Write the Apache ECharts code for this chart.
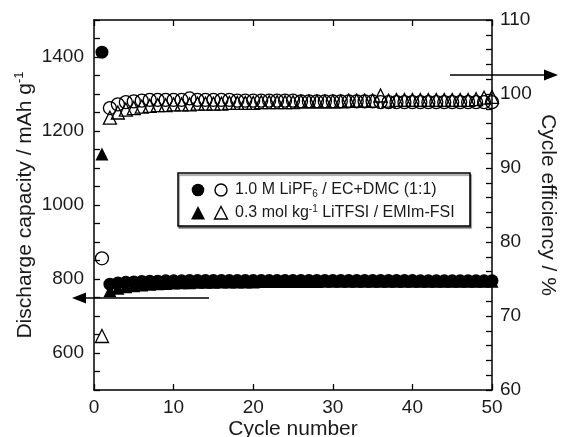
<!DOCTYPE html>
<html>
<head>
<meta charset="utf-8">
<script src="https://cdn.jsdelivr.net/npm/echarts@6/dist/echarts.min.js"></script>
<style>html,body{margin:0;padding:0;background:#fff}#c{width:563px;height:437px}</style>
</head>
<body>
<div id="c"></div>
<script>
const cycles = [1,2,3,4,5,6,7,8,9,10,11,12,13,14,15,16,17,18,19,20,21,22,23,24,25,26,27,28,29,30,31,32,33,34,35,36,37,38,39,40,41,42,43,44,45,46,47,48,49,50];
// Discharge capacity, 1.0 M LiPF6 / EC+DMC (filled circles)
const capLiPF6 = [1413,786,789,791,792,793,794,794,795,795,795,796,796,796,796,796,796,796,796,796,796,796,796,796,796,796,796,796,796,796,796,796,796,796,796,796,796,796,796,796,795,795,795,795,795,795,795,795,795,795];
// Discharge capacity, 0.3 mol kg-1 LiTFSI / EMIm-FSI (filled triangles)
const capIL = [1138,768,775,779,782,784,786,787,788,789,790,790,791,791,791,792,792,792,792,792,793,793,793,793,793,793,793,793,794,794,794,794,794,794,794,794,794,794,794,794,794,794,794,794,794,794,794,794,794,794];
// Cycle efficiency, LiPF6 (open circles)
const effLiPF6 = [77.8,98.1,98.6,98.9,99.0,99.1,99.2,99.2,99.2,99.2,99.2,99.4,99.2,99.2,99.2,99.2,99.2,99.1,99.1,99.1,99.1,99.1,99.1,99.1,99.1,99.0,99.0,99.0,99.0,99.0,99.0,99.0,99.0,99.0,99.0,98.9,98.9,98.9,98.9,98.9,98.9,98.9,98.9,98.9,98.9,98.9,98.9,98.9,98.9,98.9];
// Cycle efficiency, IL (open triangles)
const effIL = [67.3,96.8,97.5,97.9,98.1,98.3,98.4,98.5,98.5,98.6,98.6,98.6,98.7,98.7,98.7,98.7,98.8,98.8,98.8,98.8,98.9,98.9,98.9,98.9,98.9,99.0,99.0,99.0,99.0,99.0,99.0,99.1,99.1,99.1,99.1,99.8,99.1,99.2,99.2,99.2,99.2,99.2,99.2,99.2,99.2,99.2,99.2,99.3,99.5,99.6];
const xTicks = [0,10,20,30,40,50];
const leftTicks = [600,800,1000,1200,1400];
const rightTicks = [60,70,80,90,100,110];

const FF = '"Liberation Sans", Arial, sans-serif';
const TXT = '#1a1a1a';
const axLine = {show:true, onZero:false, lineStyle:{color:'#000', width:1.5}};
const tickS = {color:'#000', width:1.3};

const chart = echarts.init(document.getElementById('c'), null, {renderer:'canvas'});
const pairs = arr => cycles.map((c,i)=>[c, arr[i]]);

chart.setOption({
  animation:false,
  backgroundColor:'#fff',
  grid:{left:94, right:71, top:20, bottom:47, containLabel:false, outerBoundsMode:'none'},
  xAxis:[
    {type:'value', min:0, max:50, interval:10, position:'bottom',
     axisLine:axLine, axisTick:{inside:true, length:6, lineStyle:tickS},
     axisLabel:{fontSize:19, color:TXT, fontFamily:FF, margin:8,
       formatter:v=> xTicks.indexOf(v)>=0 ? String(v) : ''},
     splitLine:{show:false},
     name:'Cycle number', nameLocation:'middle', nameGap:29, nameMoveOverlap:false,
     nameTextStyle:{fontSize:21, color:TXT, fontFamily:FF}},
    {type:'value', min:0, max:50, interval:10, position:'top',
     axisLine:axLine, axisTick:{inside:true, length:6, lineStyle:tickS},
     axisLabel:{show:false}, splitLine:{show:false}}
  ],
  yAxis:[
    {type:'value', min:500, max:1500, interval:100, position:'left',
     axisLine:axLine, axisTick:{inside:true, length:6, lineStyle:tickS},
     minorTick:{show:true, splitNumber:2, length:6, lineStyle:tickS},
     axisLabel:{fontSize:19, color:TXT, fontFamily:FF, margin:10,
       formatter:v=> leftTicks.indexOf(v)>=0 ? String(v) : ''},
     splitLine:{show:false},
     name:'Discharge capacity / mAh g{sup|-1}', nameLocation:'middle', nameGap:57, nameMoveOverlap:false,
     nameTextStyle:{fontSize:21, color:TXT, fontFamily:FF, lineHeight:24,
       rich:{sup:{fontSize:13, color:TXT, fontFamily:FF, lineHeight:12, verticalAlign:'top'}}}},
    {type:'value', min:60, max:110, interval:10, position:'right',
     axisLine:axLine, axisTick:{inside:true, length:6, lineStyle:tickS},
     minorTick:{show:true, splitNumber:5, length:6, lineStyle:tickS},
     axisLabel:{fontSize:19, color:TXT, fontFamily:FF, margin:8,
       formatter:v=> rightTicks.indexOf(v)>=0 ? String(v) : ''},
     splitLine:{show:false},
     name:'Cycle efficiency / %', nameLocation:'middle', nameGap:45, nameRotate:-90, nameMoveOverlap:false,
     nameTextStyle:{fontSize:21, color:TXT, fontFamily:FF}}
  ],
  series:[
    {type:'scatter', name:'cap LiPF6', xAxisIndex:0, yAxisIndex:0, data:pairs(capLiPF6),
     symbol:'circle', symbolSize:13, itemStyle:{color:'#000', opacity:1}},
    {type:'scatter', name:'cap IL', xAxisIndex:0, yAxisIndex:0, data:pairs(capIL),
     symbol:'triangle', symbolSize:13, itemStyle:{color:'#000', opacity:1}},
    {type:'scatter', name:'eff LiPF6', xAxisIndex:0, yAxisIndex:1, data:pairs(effLiPF6),
     symbol:'circle', symbolSize:13, itemStyle:{color:'rgba(0,0,0,0)', borderColor:'#000', borderWidth:1.3, opacity:1}},
    {type:'scatter', name:'eff IL', xAxisIndex:0, yAxisIndex:1, data:pairs(effIL),
     symbol:'triangle', symbolSize:13, itemStyle:{color:'rgba(0,0,0,0)', borderColor:'#000', borderWidth:1.3, opacity:1}}
  ],
  graphic:[
    // arrows
    {type:'line', shape:{x1:209, y1:298, x2:82, y2:298}, style:{stroke:'#000', lineWidth:1.5}, z:10},
    {type:'polygon', shape:{points:[[72,298],[86,292.5],[86,303.5]]}, style:{fill:'#000'}, z:10},
    {type:'line', shape:{x1:450, y1:75, x2:548, y2:75}, style:{stroke:'#000', lineWidth:1.5}, z:10},
    {type:'polygon', shape:{points:[[558,75],[544,69.5],[544,80.5]]}, style:{fill:'#000'}, z:10},
    // legend box
    {type:'rect', shape:{x:178, y:173, width:292, height:53},
     style:{fill:'#fff', stroke:'#000', lineWidth:1.5, shadowColor:'rgba(0,0,0,0.45)', shadowOffsetX:1, shadowOffsetY:2, shadowBlur:1}, z:10},
    {type:'circle', shape:{cx:198, cy:190, r:6.3}, style:{fill:'#000'}, z:11},
    {type:'circle', shape:{cx:221, cy:190, r:6}, style:{fill:'none', stroke:'#000', lineWidth:1.4}, z:11},
    {type:'polygon', shape:{points:[[198,206],[191,219.5],[205,219.5]]}, style:{fill:'#000'}, z:11},
    {type:'polygon', shape:{points:[[221,206.5],[214.5,219],[227.5,219]]}, style:{fill:'none', stroke:'#000', lineWidth:1.4}, z:11},
    {type:'text', x:235, y:190, z:11,
     style:{text:'{a|1.0 M LiPF}{s|6}{a| / EC+DMC (1:1)}', verticalAlign:'middle',
       rich:{a:{fontSize:16, fontFamily:FF, fill:TXT, color:TXT, lineHeight:18},
             s:{fontSize:10, fontFamily:FF, fill:TXT, color:TXT, lineHeight:10, verticalAlign:'bottom'}}}},
    {type:'text', x:235, y:213, z:11,
     style:{text:'{a|0.3 mol kg}{p|-1}{a| LiTFSI / EMIm-FSI}', verticalAlign:'middle',
       rich:{a:{fontSize:16, fontFamily:FF, fill:TXT, color:TXT, lineHeight:18},
             p:{fontSize:10, fontFamily:FF, fill:TXT, color:TXT, lineHeight:10, verticalAlign:'top'}}}}
  ]
});
</script>
</body>
</html>
